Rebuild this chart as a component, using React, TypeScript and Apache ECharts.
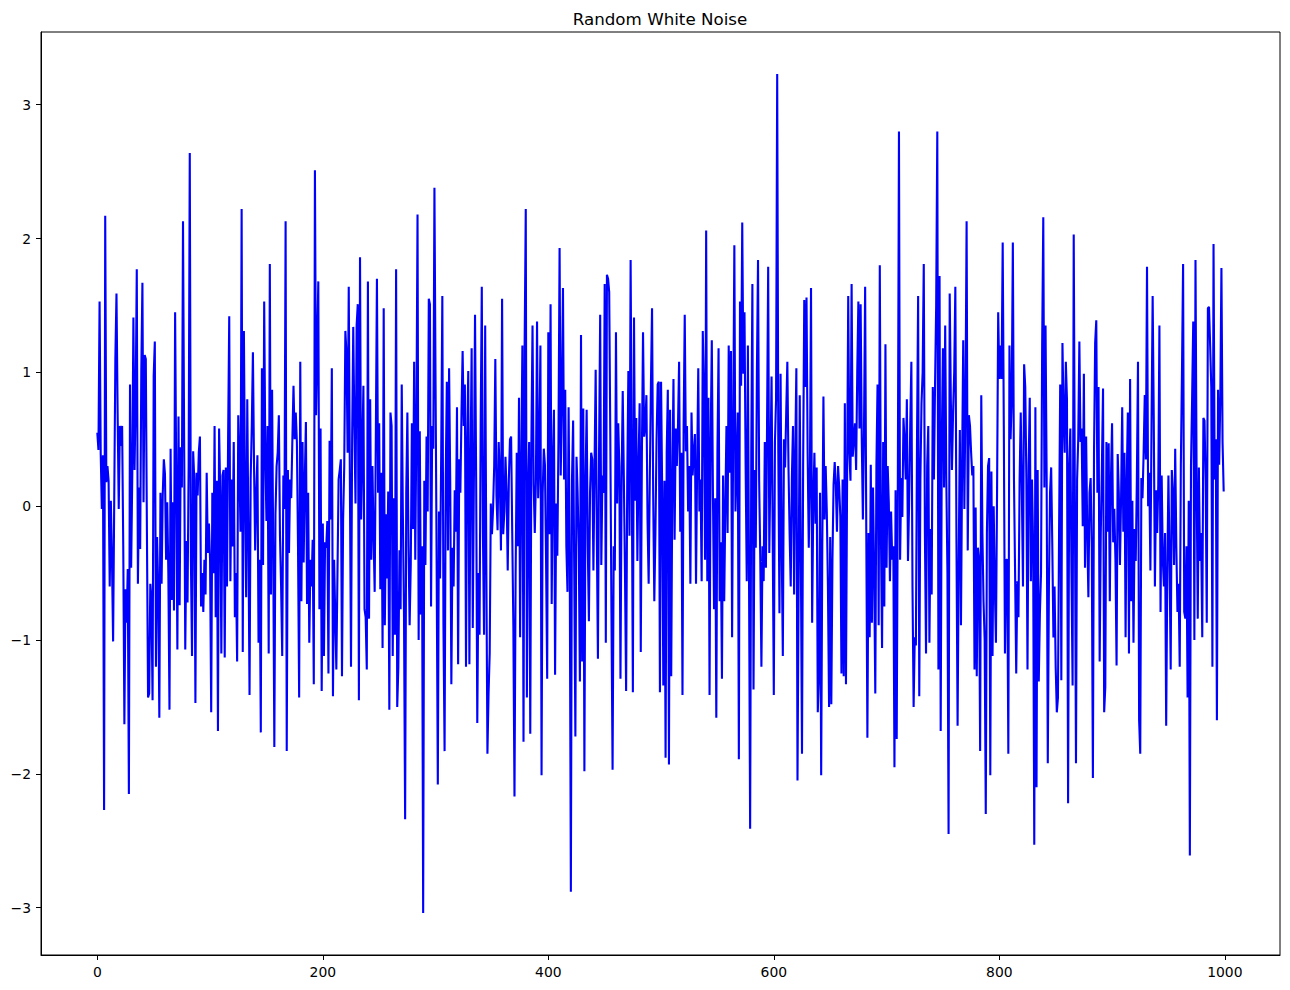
import React, { useEffect, useRef } from "react";
import * as echarts from "echarts";

const TITLE = "Random White Noise";
const xTicks = [0, 200, 400, 600, 800, 1000];
const yTicks = [-3, -2, -1, 0, 1, 2, 3];

// values, index 0..999, in blocks
const noise0 = [
  0.55, 0.42, 1.53, 0.40, -0.02, 0.38, -2.27, 2.17, 0.18, 0.30,
  0.19, -0.60, 0.04, -0.40, -1.01, 0.05, 1.10, 1.59, 0.70, -0.02,
  0.60, 0.45, 0.60, -0.30, -1.63, -0.62, -0.87, -0.47, -2.15, 0.91,
  -0.46, 0.23, 1.41, 0.27, 0.80, 1.77, -0.58, 0.14, -0.32, 1.00,
  1.67, 0.03, 1.13, 1.10, -0.20, -1.43, -1.40, -0.58, -0.70, -1.45,
  0.97, 1.23, -1.20, -0.23, -0.60, -1.58, 0.10, -0.58, 0.08, 0.35,
  0.24, -0.40, 0.03, -0.50, -1.52, 0.43, -0.70, 0.03, -0.78, 1.45,
  0.20, -1.07, 0.67, -0.74, 0.44, 0.14, 2.13, 0.50, -1.07, -0.26,
  -0.72, 0.30, 2.64, -0.40,
];
const noise1 = [
  -1.12, 0.41, 0.20, -1.47, 0.25, 0.08, 0.40, 0.52, -0.75, -0.50,
  -0.79, -0.40, -0.66, 0.25, -0.35, -0.13, -0.40, -1.54, 0.10, -0.50,
  0.60, -0.83, 0.19, -1.68, 0.58, 0.10, -1.10, 0.23, 0.27, -1.13,
  0.29, -0.60, 0.50, 1.42, -0.56, 0.20, -0.30, 0.48, -0.83, -0.50,
  -1.16, 0.68, 0.30, -0.19, 2.22, -1.09, 1.31, 0.10, -0.68, 0.80,
  -0.20, -1.41, 0.20, 0.60, 1.15, 0.30, -0.33, 0.10, 0.38, -1.02,
  -0.40, -1.69, 1.03, -0.44, 1.53, 0.40, -0.11, 0.60, -1.10, 1.81,
  -0.66, 0.87, -0.30, -1.80, -0.06, 0.30, 0.40, 0.68, -0.22, -0.60,
  -1.12, 0.23, -0.02, 2.13,
];
const noise2 = [
  -1.83, 0.27, -0.35, 0.20, 0.06, 0.50, 0.90, 0.50, 0.70, 0.48,
  -0.30, -1.43, 1.08, -0.71, 0.48, -0.42, 0.20, 0.63, -0.73, 0.10,
  -1.02, -0.40, -0.60, -0.25, -1.33, 2.51, 0.68, 1.20, 1.68, -0.77,
  0.58, -1.38, -0.13, -1.12, -0.27, -0.31, -0.11, -1.25, 0.49, -0.10,
  1.03, -1.42, -0.40, -0.80, -1.22, -0.50, 0.20, 0.27, 0.35, -1.27,
  -0.10, 0.30, 1.31, 1.14, 0.40, 1.64, 0.20, -1.20, 0.50, 1.34,
  0.60, 0.02, 1.35, 1.51, -1.45, 1.86, -0.10, 0.40, 0.90, -0.77,
  -0.83, -1.22, 1.68, -0.84, 0.80, -0.40, 0.30, -0.22, -0.64, 0.50,
  1.70, 0.10, 0.62,
];
const noise3 = [
  -0.62, 0.25, -1.06, 1.48, -0.89, -0.06, -0.54, 0.11, -1.52, 0.70,
  0.60, -1.12, 0.06, -0.96, 1.77, -1.50, -1.20, -0.33, -0.77, 0.91,
  -0.06, -0.80, -2.34, 0.10, 0.70, -0.30, -0.89, -0.44, 0.62, -0.17,
  1.08, -0.40, 0.60, 2.18, -1.00, 0.56, -0.81, -0.30, -3.04, 0.19,
  -0.44, 0.52, -0.04, 1.55, 1.51, -0.75, 0.60, 0.43, 2.38, 0.91,
  -0.50, -2.08, -0.04, -0.54, 0.40, 1.57, -0.89, -1.83, 0.20, 0.93,
  -0.33, 1.03, 0.19, -1.33, -0.31, -0.60, 0.12, -0.19, 0.74, -1.18,
  0.35, 0.10, 0.70, 1.16, 0.60, 0.91, -1.20, 0.48, 1.01, -1.18,
  0.30, 1.18, -0.91, 0.20, 1.43,
];
const noise4 = [
  0.20, -1.62, -0.50, -0.96, 0.60, 1.64, -0.20, -0.96, 1.35, -0.40,
  -1.85, -1.40, -1.10, 0.02, -0.21, -0.02, 0.30, 1.10, 0.08, -0.18,
  0.48, 0.20, -0.33, 1.55, -0.21, -0.04, 0.37, 0.10, -0.48, 0.20,
  0.50, 0.52, -0.20, -0.90, -2.17, -0.50, 0.40, -0.30, 0.81, -0.98,
  0.30, 1.20, -1.76, 1.20, 2.22, -1.43, 0.10, 0.48, -1.70, 0.50,
  1.35, 0.16, -0.20, 0.19, 1.38, 0.06, 0.40, 1.20, -2.01, 0.10,
  0.43, 0.31, -0.40, -1.29, 1.30, -0.21, 1.51, -0.73, 0.30, 0.72,
  -1.26, 0.02, -0.37, 0.50, 1.93, 0.23, 0.80, 1.63, 0.20, 0.87,
  -0.30, -0.64, 0.74, -0.40,
];
const noise5 = [
  -2.88, 0.20, 0.64, -0.50, -1.72, 0.37, 0.10, -0.30, -1.31, 1.28,
  -1.16, 0.73, -1.98, 0.20, 0.72, -0.30, -0.86, 0.10, 0.40, 0.35,
  -0.48, 0.30, 1.02, -0.20, -1.14, 0.40, 1.43, -0.44, 0.23, 0.10,
  1.66, -1.02, 1.73, 1.70, 1.60, 0.50, -0.80, -1.97, -0.30, -0.48,
  1.30, 0.02, 0.62, 0.30, -1.29, 0.20, 0.86, 0.20, -0.50, -1.38,
  0.20, 1.01, -0.22, 1.84, 0.30, -1.39, 1.41, 0.04, 0.66, -0.41,
  0.30, 0.77, -1.09, 0.40, 1.30, 0.52, 0.60, 0.83, -0.10, -0.58,
  0.20, 0.90, 1.48, 0.10, -0.71, -0.20, 0.50, 0.91, 0.93, -1.39,
  0.93, 0.10, -1.34, 0.19,
];
const noise6 = [
  -1.88, 0.40, 0.87, -1.93, 0.72, -1.27, 0.20, 0.95, -0.25, 0.58,
  0.30, 0.60, 1.08, -0.19, 0.40, -1.41, 0.60, 1.43, 0.41, 0.60,
  -0.04, 0.30, -0.58, 0.70, 0.23, 0.40, 0.54, -0.58, 0.30, 1.03,
  -0.04, 0.20, -0.56, 1.31, 0.85, -0.40, 2.06, -0.56, 0.81, -1.41,
  0.50, 1.24, 0.10, -0.77, 0.06, -1.58, 0.40, 1.18, -0.71, -0.27,
  -1.29, 0.23, -0.71, 0.00, 0.60, -0.20, 1.20, 0.25, 1.16, -0.98,
  0.60, 1.95, -0.04, 0.30, 0.70, -1.89, 1.53, 0.90, 2.12, 0.99,
  1.45, 0.30, -0.56, 1.20, -0.50, -2.41, 0.40, 1.66, -1.37, 0.27,
  -0.31, 1.00, 1.84,
];
const noise7 = [
  0.19, -0.40, -1.20, -0.30, -0.56, 0.48, -0.46, 0.60, 1.79, -0.35,
  0.30, 0.97, -0.20, -1.41, 0.48, 0.80, 3.23, 0.40, -0.80, 0.99,
  -0.30, -1.12, 0.50, 0.29, 0.70, 1.08, 0.30, -0.20, -0.60, 0.20,
  0.60, -0.66, 0.40, 1.03, -2.05, -0.60, 0.83, -0.40, -1.85, 0.30,
  1.54, 0.89, 1.56, 0.40, -0.31, 0.20, 1.63, -0.87, 0.02, 0.40,
  -0.13, 0.29, -1.54, -1.27, 0.10, -2.01, -0.30, 0.82, -0.10, 0.30,
  -0.04, -0.60, -1.50, -0.23, -1.48, -0.40, 0.16, 0.33, 0.16, -0.19,
  0.30, 0.14, -0.08, -1.25, 0.20, -1.27, 0.77, -1.33, 0.19, 1.57,
  0.40, 0.19, 1.66, 0.37,
];
const noise8 = [
  0.50, 0.62, 0.27, 1.00, 1.53, 0.58, 1.51, 0.50, -0.10, 0.60,
  1.64, -0.17, -1.73, -0.20, -0.98, 0.31, -0.87, 0.14, -0.50, -1.40,
  0.30, 0.91, -0.89, 1.80, -0.20, -1.06, 0.48, -0.75, 1.21, -0.46,
  0.30, 0.02, -0.56, -0.04, -0.40, -0.30, -1.95, 0.12, -1.74, 0.20,
  2.80, -0.40, 0.21, -0.08, 0.66, 0.48, 0.20, 0.80, -0.41, 0.02,
  0.60, 1.08, -0.60, -1.50, -0.98, -1.04, 0.50, 1.57, -1.42, 0.20,
  0.77, 1.00, 1.81, -0.20, -1.10, 0.30, 0.60, -1.02, -0.17, -0.66,
  0.89, 0.20, 0.90, 1.50, 2.80, -1.22, 1.72, -1.68, 0.50, 1.18,
  0.14, 1.35, 0.20, -0.50, -2.45, 1.59,
];
const noise9 = [
  0.80, 0.27, 0.70, 1.00, 1.64, -0.27, -1.64, -0.40, 0.57, -0.89,
  0.30, 1.24, -0.02, 0.80, 2.13, -0.33, 0.68, 0.60, 0.40, 0.23,
  0.30, -1.22, -0.01, -1.27, -0.31, -0.40, -1.83, 0.83, -0.20, -0.71,
  -1.00, -2.30, -0.19, 0.30, 0.36, -2.01, 0.26, -1.12, 0.00, -0.60,
  -1.02, 0.10, 1.45, 0.95, 1.20, 0.95, 1.97, 0.60, -1.10, -0.40,
  -0.40, -1.85, 1.20, 0.50, 0.80, 1.97, 0.20, -0.50, -1.25, -0.56,
  -0.83, 0.20, 0.70, 0.10, -0.60, 1.06, 0.89, 0.20, -1.22, 0.30,
  0.81, -0.56, 0.20, -0.30, -2.53, 0.74, -2.10, 0.27, -1.31, -0.80,
  -0.50, 1.20, 2.16, 0.14,
];
const noise10 = [
  1.35, 0.20, -1.92, -0.60, 0.10, 0.29, -0.30, -0.98, -0.60, -1.20,
  -1.54, -1.43, -0.20, 0.91, -1.30, 1.22, 0.70, 0.40, 1.08, 0.80,
  -2.22, 0.31, 0.58, -0.50, -1.34, 2.03, 0.10, -1.92, 0.20, 0.50,
  1.23, 0.48, 0.58, -0.15, 0.99, -0.46, 0.52, -0.20, -0.68, 0.10,
  0.21, -0.30, -2.03, 0.40, 1.22, 1.39, 0.10, 0.89, -1.16, -0.20,
  0.30, 0.88, -1.54, -1.35, 0.48, -0.19, 0.47, -0.71, 0.20, 0.62,
  -0.27, -0.02, -0.40, -1.19, 0.39, 0.10, -0.44, 0.06, 0.74, -0.19,
  0.40, -0.98, 0.20, 0.70, -1.10, 0.95, -0.71, 0.04, -1.02, -0.17,
  -0.41, 0.20, 1.08, -1.60,
];
const noise11 = [
  -1.85, 0.21, 0.06, 0.40, 0.83, 0.35, 1.79, 0.00, 0.25, -0.48,
  0.60, 1.57, 0.64, -0.60, 0.12, -0.20, 0.16, 1.35, -0.79, 0.23,
  -0.40, -0.60, -0.20, -1.64, -0.50, 0.23, -0.40, -1.22, 0.27, 0.10,
  -0.44, 0.43, -0.30, -0.79, -0.58, -1.20, 0.30, 1.00, 1.81, -0.79,
  -0.84, -0.30, -1.43, 0.04, -2.61, 0.30, 0.80, 1.38, -1.00, 1.84,
  0.20, -0.84, 0.29, -0.41, -0.20, -0.98, 0.66, 0.64, 0.20, -0.87,
  1.48, 1.49, 1.20, 0.89, -1.20, 1.96, 0.20, 0.50, -1.60, 0.87,
  0.31, 0.80, 1.78, 0.48, 0.11,
];

const noise = [
  ...noise0, ...noise1, ...noise2, ...noise3, ...noise4, ...noise5,
  ...noise6, ...noise7, ...noise8, ...noise9, ...noise10, ...noise11,
];

const FONT = "DejaVu Sans";

export default function App() {
  const ref = useRef<HTMLDivElement>(null);
  useEffect(() => {
    if (!ref.current) return;
    const chart = echarts.init(ref.current, undefined, { renderer: "svg" });
    const n = noise.length;
    const xMin = -(n - 1) * 0.05;
    const xMax = (n - 1) * 1.05;
    const yLo = Math.min(...noise);
    const yHi = Math.max(...noise);
    const yPad = (yHi - yLo) * 0.05;
    const fmt = (v: number) => (v < 0 ? "\u2212" + Math.abs(v) : String(v));
    chart.setOption({
      animation: false,
      backgroundColor: "#ffffff",
      title: {
        text: TITLE,
        left: 655,
        top: 5,
        textAlign: "center",
        textStyle: { fontFamily: FONT, fontSize: 16.7, fontWeight: "normal", color: "#000" },
      },
      grid: {
        left: 41,
        right: 10,
        top: 32,
        bottom: 35,
        show: true,
        borderColor: "#000",
        borderWidth: 1,
        backgroundColor: "transparent",
      },
      xAxis: {
        type: "value",
        min: xMin,
        max: xMax,
        axisLine: { show: true, onZero: false, lineStyle: { color: "#000", width: 1 } },
        axisTick: { show: true, inside: false, length: 5, customValues: xTicks, lineStyle: { color: "#000", width: 1 } },
        axisLabel: {
          show: true,
          customValues: xTicks,
          margin: 10,
          fontFamily: FONT,
          fontSize: 13.9,
          color: "#000",
          formatter: fmt,
        },
        splitLine: { show: false },
      },
      yAxis: {
        type: "value",
        min: yLo - yPad,
        max: yHi + yPad,
        axisLine: { show: true, onZero: false, lineStyle: { color: "#000", width: 1 } },
        axisTick: { show: true, inside: false, length: 5, customValues: yTicks, lineStyle: { color: "#000", width: 1 } },
        axisLabel: {
          show: true,
          customValues: yTicks,
          margin: 10,
          fontFamily: FONT,
          fontSize: 13.9,
          color: "#000",
          formatter: fmt,
        },
        splitLine: { show: false },
      },
      series: [
        {
          type: "line",
          data: noise.map((v, i) => [i, v]),
          showSymbol: false,
          symbol: "none",
          lineStyle: { color: "#0000ff", width: 2.1 },
          itemStyle: { color: "#0000ff" },
        },
      ],
    });
    return () => chart.dispose();
  }, []);
  return (
    <div
      ref={ref}
      style={{ position: "fixed", left: 0, top: 0, width: 1290, height: 990, background: "#fff" }}
    />
  );
}
